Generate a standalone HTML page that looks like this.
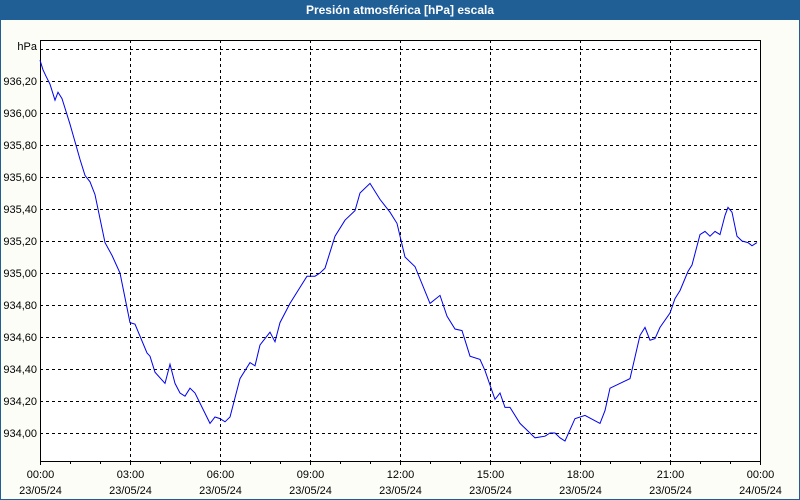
<!DOCTYPE html>
<html><head><meta charset="utf-8"><style>
html,body{margin:0;padding:0}
body{width:800px;height:500px;overflow:hidden;background:#fdfdf8;font-family:"Liberation Sans",sans-serif}
#frame{position:absolute;left:0;top:0;width:798px;height:498px;border:1px solid #1f5f96}
#title{position:absolute;left:0;top:0;width:800px;height:20px;background:#1f5f96;color:#fff;font-weight:bold;font-size:12px;line-height:20px;text-align:center}
svg{position:absolute;left:0;top:0}
</style></head><body>
<div id="frame"></div>
<div id="title">Presión atmosférica [hPa] escala</div>
<svg id="chart" width="800" height="500"></svg>
<script>
const minutes=[0,6,12,20,30,36,44,52,60,70,80,90,100,110,130,144,160,180,190,214,220,230,250,260,270,280,290,300,310,340,350,360,370,380,400,420,430,440,460,470,480,500,520,534,550,560,570,590,610,630,640,660,680,700,714,730,750,780,800,814,830,844,860,880,890,910,920,930,940,960,990,1010,1020,1030,1040,1050,1070,1090,1120,1130,1140,1180,1200,1210,1220,1230,1240,1260,1270,1280,1296,1304,1320,1330,1340,1350,1360,1370,1376,1384,1394,1404,1416,1424,1434];
const pressure=[936.33,936.27,936.23,936.18,936.08,936.13,936.09,936.01,935.93,935.82,935.71,935.61,935.57,935.49,935.19,935.11,935.00,934.69,934.68,934.50,934.48,934.38,934.31,934.43,934.31,934.25,934.23,934.28,934.25,934.06,934.10,934.09,934.07,934.10,934.34,934.44,934.42,934.55,934.63,934.57,934.69,934.81,934.91,934.98,934.98,935.00,935.03,935.23,935.33,935.39,935.50,935.56,935.46,935.38,935.31,935.10,935.04,934.81,934.86,934.73,934.65,934.64,934.48,934.46,934.39,934.21,934.25,934.16,934.16,934.06,933.97,933.98,934.00,934.00,933.97,933.95,934.09,934.11,934.06,934.14,934.28,934.34,934.61,934.66,934.58,934.59,934.66,934.75,934.84,934.89,935.01,935.05,935.24,935.26,935.23,935.26,935.24,935.36,935.41,935.38,935.23,935.20,935.19,935.17,935.19];
const yTicks=[934.00,934.20,934.40,934.60,934.80,935.00,935.20,935.40,935.60,935.80,936.00,936.20];
const xTickTimes=["00:00","03:00","06:00","09:00","12:00","15:00","18:00","21:00","00:00"];
const xTickDates=["23/05/24","23/05/24","23/05/24","23/05/24","23/05/24","23/05/24","23/05/24","23/05/24","24/05/24"];
const L=40,T=40,R=760,B=461;
const xS=m=>L+m*(R-L)/1440;
const yS=v=>433-(v-934)*160;
const svg=document.getElementById('chart');
const NS='http://www.w3.org/2000/svg';
function mk(tag,attrs){const e=document.createElementNS(NS,tag);for(const k in attrs)e.setAttribute(k,attrs[k]);svg.appendChild(e);return e;}
let e=mk('rect',{x:L,y:T,width:R-L,height:B-T,fill:'#fff'});


// horizontal grid
for(let v=934;v<=936.41;v+=0.2){
  const y=Math.round(yS(v))+0.5;
  e=mk('line',{x1:L,x2:R,y1:y,y2:y,stroke:'#000','stroke-dasharray':'3,3','stroke-width':1});
  
  
}
yTicks.forEach(v=>{
  e=mk('text',{x:37,y:yS(v)+4,'text-anchor':'end','font-size':11,fill:'#000'});
  e.textContent=v.toFixed(2).replace('.',',');
  
  
});
e=mk('text',{x:37,y:50,'text-anchor':'end','font-size':11,fill:'#000'});
e.textContent='hPa';


// vertical grid + labels
xTickTimes.forEach((t,i)=>{
  const x=Math.round(xS(i*180))+0.5;
  if(i>0&&i<8){
    e=mk('line',{x1:x,x2:x,y1:T,y2:B,stroke:'#000','stroke-dasharray':'3,3','stroke-width':1});
    
    
  }
  e=mk('text',{x:x,y:478,'text-anchor':'middle','font-size':11,fill:'#000'});
  e.textContent=t;
  
  
  e=mk('text',{x:x,y:494,'text-anchor':'middle','font-size':11,fill:'#000'});
  e.textContent=xTickDates[i];
  
  
});
for(let h=0;h<=24;h++){
  const x=Math.round(xS(h*60))+0.5;
  e=mk('line',{x1:x,x2:x,y1:B,y2:B+(h%3===0?4:3),stroke:'#000'});
  
  
}
e=mk('rect',{x:L+0.5,y:T+0.5,width:R-L,height:B-T,fill:'none',stroke:'#000','stroke-width':1});


const pts=minutes.map((m,i)=>xS(m).toFixed(1)+','+yS(pressure[i]).toFixed(1)).join(' ');
e=mk('polyline',{points:pts,fill:'none',stroke:'#0000ee','stroke-width':1});


</script>
</body></html>
